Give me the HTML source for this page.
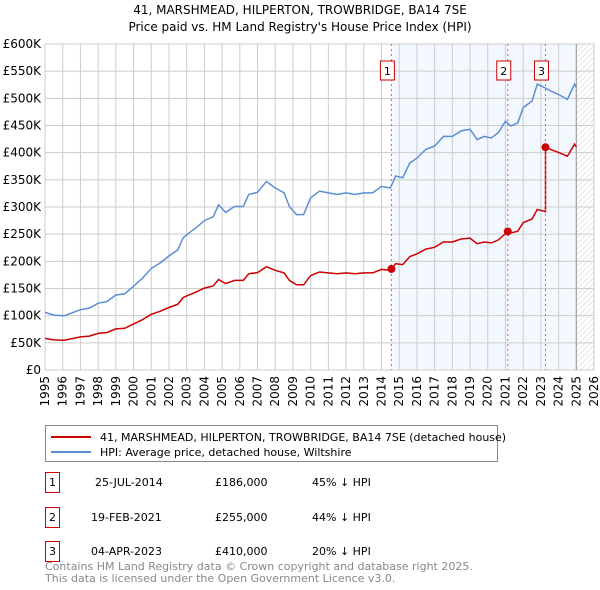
<!DOCTYPE html>
<html><head><meta charset="utf-8"><style>
body{margin:0;background:#fff;font-family:"Liberation Sans","DejaVu Sans",sans-serif}
svg{display:block}
</style></head><body>
<svg width="600" height="590" viewBox="0 0 600 590" xmlns="http://www.w3.org/2000/svg" font-family="DejaVu Sans, Liberation Sans, sans-serif">
<defs>
<pattern id="hatch" width="4" height="4" patternUnits="userSpaceOnUse" patternTransform="rotate(45)"><line x1="0" y1="0" x2="0" y2="4" stroke="#ccc" stroke-width="1"/></pattern>
</defs>
<text x="300" y="14" text-anchor="middle" font-size="12">41, MARSHMEAD, HILPERTON, TROWBRIDGE, BA14 7SE</text>
<text x="300" y="31" text-anchor="middle" font-size="12">Price paid vs. HM Land Registry's House Price Index (HPI)</text>
<g id="plot"></g>
<g>
<rect x="45.5" y="425.5" width="452" height="36" fill="#fff" stroke="#888"/>
<line x1="51" y1="437" x2="91" y2="437" stroke="#cc0000" stroke-width="2"/>
<text x="100" y="441" font-size="11">41, MARSHMEAD, HILPERTON, TROWBRIDGE, BA14 7SE (detached house)</text>
<line x1="51" y1="452" x2="91" y2="452" stroke="#5b8fd4" stroke-width="2"/>
<text x="100" y="456" font-size="11">HPI: Average price, detached house, Wiltshire</text>
</g>
<g font-size="11">
<rect x="45.5" y="472.5" width="14" height="20" fill="#fff" stroke="#cc0000"/><text x="52.5" y="486" text-anchor="middle">1</text>
<text x="95" y="486">25-JUL-2014</text><text x="215" y="486">£186,000</text><text x="312" y="486">45% ↓ HPI</text>
<rect x="45.5" y="507.5" width="14" height="20" fill="#fff" stroke="#cc0000"/><text x="52.5" y="521" text-anchor="middle">2</text>
<text x="91" y="521">19-FEB-2021</text><text x="215" y="521">£255,000</text><text x="312" y="521">44% ↓ HPI</text>
<rect x="45.5" y="541.5" width="14" height="20" fill="#fff" stroke="#cc0000"/><text x="52.5" y="555" text-anchor="middle">3</text>
<text x="91" y="555">04-APR-2023</text><text x="215" y="555">£410,000</text><text x="312" y="555">20% ↓ HPI</text>
</g>
<text x="45" y="570" font-size="11" fill="#888">Contains HM Land Registry data © Crown copyright and database right 2025.</text>
<text x="45" y="582" font-size="11" fill="#888">This data is licensed under the Open Government Licence v3.0.</text>
</svg>
<script>
const hpiYears=[1995,1995.5,1996.1,1997,1997.5,1998,1998.5,1999,1999.5,2000,2000.5,2001,2001.5,2002,2002.5,2002.8,2003,2003.5,2004,2004.5,2004.8,2005.2,2005.7,2006.2,2006.5,2007,2007.5,2008,2008.5,2008.8,2009.2,2009.6,2010,2010.5,2011,2011.5,2012,2012.5,2013,2013.5,2014,2014.5,2014.8,2015.2,2015.6,2016,2016.5,2017,2017.5,2018,2018.5,2019,2019.4,2019.8,2020.2,2020.6,2021,2021.3,2021.7,2022,2022.5,2022.8,2023.2,2023.6,2024,2024.5,2024.9,2025];
const hpiValues=[106,101,100,111,114,123,126,138,140,154,169,187,197,210,221,243,249,261,275,282,304,290,301,301,323,327,347,335,326,301,286,286,317,329,326,323,326,323,326,326,338,335,357,354,381,390,406,412,430,430,440,443,424,430,427,437,458,449,455,483,495,526,520,513,507,498,526,520];
const saleYears=[2014.56,2021.13,2023.26];
const salePrices=[186,255,410];
const saleLabels=["1","2","3"];
const yTicks=[0,50,100,150,200,250,300,350,400,450,500,550,600];
const xTicks=[1995,1996,1997,1998,1999,2000,2001,2002,2003,2004,2005,2006,2007,2008,2009,2010,2011,2012,2013,2014,2015,2016,2017,2018,2019,2020,2021,2022,2023,2024,2025,2026];

const NS="http://www.w3.org/2000/svg";
const X0=45,X1=594,Y0=370,Y1=44;
const xs=y=>X0+(y-1995)/31*(X1-X0);
const ys=v=>Y0-v/600*(Y0-Y1);
const g=document.getElementById('plot');
function mk(tag,attrs,parent){const e=document.createElementNS(NS,tag);for(const k in attrs)e.setAttribute(k,attrs[k]);(parent||g).appendChild(e);return e;}
function hpiAt(t){for(let i=0;i<hpiYears.length-1;i++){if(t<=hpiYears[i+1]){const f=(t-hpiYears[i])/(hpiYears[i+1]-hpiYears[i]);return hpiValues[i]+f*(hpiValues[i+1]-hpiValues[i]);}}return hpiValues[hpiValues.length-1];}

let r=mk('rect',{x:xs(saleYears[0]),y:Y1,width:xs(2025)-xs(saleYears[0]),height:Y0-Y1,fill:'#f3f7fe'});


r=mk('rect',{x:xs(2025),y:Y1,width:X1-xs(2025),height:Y0-Y1,fill:'url(#hatch)'});



yTicks.forEach(v=>{
  const l=mk('line',{x1:X0,x2:X1,y1:ys(v),y2:ys(v),stroke:'#ccc','stroke-width':1});
  
  
  const t=mk('text',{x:X0-4,y:ys(v)+4,'text-anchor':'end','font-size':12});
  
  
  t.textContent=v===0?'£0':'£'+v+'K';
});
xTicks.forEach(yr=>{
  const l=mk('line',{x1:xs(yr),x2:xs(yr),y1:Y1,y2:Y0,stroke:'#ccc','stroke-width':1});
  
  
  const t=mk('text',{x:0,y:0,'text-anchor':'end','font-size':12,transform:`translate(${xs(yr)+4},${Y0+6}) rotate(-90)`});
  
  
  t.textContent=yr;
});
let vl=mk('line',{x1:xs(2025),x2:xs(2025),y1:Y1,y2:Y0,stroke:'#999','stroke-width':1});



let p=hpiYears.map((t,i)=>(i?'L':'M')+xs(t).toFixed(1)+','+ys(hpiValues[i]).toFixed(1)).join('');
let hl=mk('path',{d:p,fill:'none',stroke:'#5b8fd4','stroke-width':1.5});



function propAt(t){let k=0;for(let i=0;i<saleYears.length;i++)if(t>=saleYears[i])k=i;return salePrices[k]*hpiAt(t)/hpiAt(saleYears[k]);}
let pts=[];
const times=hpiYears.slice();
saleYears.forEach(s=>{times.push(s-0.001);times.push(s);});
times.sort((a,b)=>a-b);
times.forEach(t=>pts.push([xs(t),ys(propAt(t))]));
let rl=mk('path',{d:pts.map((q,i)=>(i?'L':'M')+q[0].toFixed(1)+','+q[1].toFixed(1)).join(''),fill:'none',stroke:'#cc0000','stroke-width':1.5});



saleYears.forEach((s,i)=>{
  const l=mk('line',{x1:xs(s),x2:xs(s),y1:Y1,y2:Y0,stroke:'#e06060','stroke-width':1,'stroke-dasharray':'2,3'});
  
  
  const c=mk('circle',{cx:xs(s),cy:ys(salePrices[i]),r:4,fill:'#cc0000'});
  
  
  const b=mk('rect',{x:xs(s)-11,y:61,width:14,height:19,fill:'#fff',stroke:'#cc0000'});
  
  
  const t=mk('text',{x:xs(s)-4,y:75,'text-anchor':'middle','font-size':11});
  
  
  t.textContent=saleLabels[i];
});
</script>
</body></html>
